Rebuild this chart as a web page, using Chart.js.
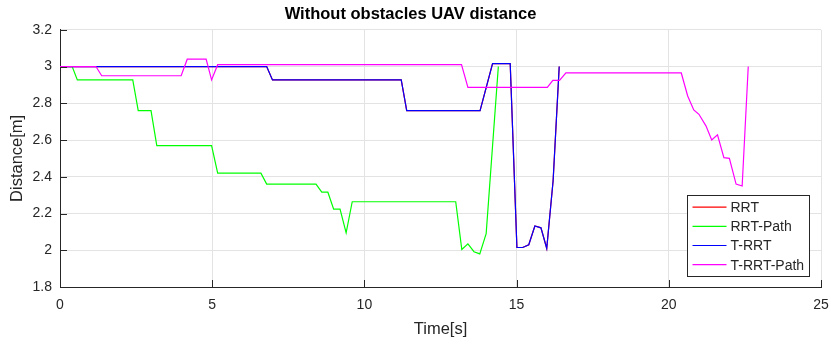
<!DOCTYPE html>
<html>
<head>
<meta charset="utf-8">
<script src="https://cdn.jsdelivr.net/npm/chart.js@4"></script>
<style>
    body { margin: 0; background: #fff; }
    #wrap { width: 831px; height: 345px; }
</style>
</head>
<body>
<div id="wrap"><canvas id="myChart" width="831" height="345"></canvas></div>
<script>
// Data
const rrtTime = [0, 6.79, 6.98, 11.21, 11.39, 13.8, 14.21, 14.79, 15.01, 15.2, 15.4, 15.6, 15.8, 15.99, 16.2, 16.4];
const rrtDist = [3.0, 3.0, 2.927, 2.927, 2.76, 2.76, 3.016, 3.016, 2.015, 2.015, 2.03, 2.132, 2.122, 2.01, 2.38, 3.0];

const rrtPathTime = [0, 0.4, 0.57, 2.39, 2.57, 2.99, 3.18, 4.98, 5.18, 6.6, 6.79, 8.41, 8.6, 8.8, 8.99, 9.2, 9.4, 9.6, 13.0, 13.2, 13.4, 13.6, 13.79, 14.0, 14.4];
const rrtPathDist = [3.0, 3.0, 2.927, 2.927, 2.76, 2.76, 2.57, 2.57, 2.42, 2.42, 2.36, 2.36, 2.316, 2.316, 2.224, 2.224, 2.095, 2.264, 2.264, 2.004, 2.035, 1.992, 1.98, 2.09, 3.0];

const trrtTime = [0, 6.79, 6.98, 11.21, 11.39, 13.8, 14.21, 14.79, 15.01, 15.2, 15.4, 15.6, 15.8, 15.99, 16.2, 16.4];
const trrtDist = [3.0, 3.0, 2.927, 2.927, 2.76, 2.76, 3.016, 3.016, 2.015, 2.015, 2.03, 2.132, 2.122, 2.01, 2.38, 3.0];

const trrtPathTime = [0, 1.18, 1.37, 3.98, 4.18, 4.8, 4.98, 5.18, 13.19, 13.4, 16.01, 16.19, 16.41, 16.62, 20.41, 20.62, 20.82, 20.99, 21.22, 21.41, 21.6, 21.81, 21.99, 22.21, 22.41, 22.61];
const trrtPathDist = [3.0, 3.0, 2.95, 2.95, 3.04, 3.04, 2.927, 3.01, 3.01, 2.887, 2.887, 2.925, 2.925, 2.965, 2.965, 2.84, 2.764, 2.74, 2.677, 2.6, 2.628, 2.504, 2.5, 2.36, 2.35, 3.0];

const seriesLabels = ["RRT", "RRT-Path", "T-RRT", "T-RRT-Path"];
const seriesColors = ["#ff0000", "#00ff00", "#0000ff", "#ff00ff"];

const xTicks = [0, 5, 10, 15, 20, 25];
const yMin = 1.8, yMax = 3.2, yStep = 0.2;

const fontFamily = "'Liberation Sans', Arial, Helvetica, sans-serif";
const axisColor = "#262626";

const toPoints = (xs, ys) => xs.map((x, i) => ({ x: x, y: ys[i] }));

// ticks drawn inward, like the original figure
const innerTicks = {
    id: "innerTicks",
    afterDraw(chart) {
        const { ctx, chartArea, scales } = chart;
        ctx.save();
        ctx.strokeStyle = axisColor;
        ctx.lineWidth = 1;
        ctx.beginPath();
        scales.x.ticks.forEach((t) => {
            const px = Math.round(scales.x.getPixelForValue(t.value)) + 0.5;
            ctx.moveTo(px, chartArea.bottom);
            ctx.lineTo(px, chartArea.bottom - 7);
        });
        scales.y.ticks.forEach((t) => {
            const py = Math.round(scales.y.getPixelForValue(t.value)) + 0.5;
            ctx.moveTo(chartArea.left, py);
            ctx.lineTo(chartArea.left + 7, py);
        });
        ctx.stroke();
        ctx.restore();
    },
};

// legend box inside the plot, bottom right
const insideLegend = {
    id: "insideLegend",
    afterDraw(chart) {
        const { ctx, chartArea } = chart;
        const sets = chart.data.datasets;
        ctx.save();
        ctx.font = "14px " + fontFamily;
        const textW = Math.max(...sets.map((d) => ctx.measureText(d.label).width));
        const rowH = 19.2;
        const w = Math.round(5 + 34 + 4 + textW + 5);
        const h = Math.round(sets.length * rowH + 4);
        const x = Math.round(chartArea.right - 12 - w) + 0.5;
        const y = Math.round(chartArea.bottom - 11 - h) + 0.5;
        ctx.fillStyle = "#fff";
        ctx.fillRect(x, y, w, h);
        ctx.strokeStyle = axisColor;
        ctx.lineWidth = 1;
        ctx.strokeRect(x, y, w, h);
        ctx.textBaseline = "middle";
        ctx.textAlign = "left";
        sets.forEach((d, i) => {
            const cy = y + 2 + rowH * (i + 0.5);
            ctx.strokeStyle = d.borderColor;
            ctx.lineWidth = 1.2;
            ctx.beginPath();
            ctx.moveTo(x + 5, cy);
            ctx.lineTo(x + 39, cy);
            ctx.stroke();
            ctx.fillStyle = axisColor;
            ctx.fillText(d.label, x + 43, cy + 1);
        });
        ctx.restore();
    },
};

const allSeries = [
    toPoints(rrtTime, rrtDist),
    toPoints(rrtPathTime, rrtPathDist),
    toPoints(trrtTime, trrtDist),
    toPoints(trrtPathTime, trrtPathDist),
];

const ctx = document.getElementById("myChart").getContext("2d");
const chart = new Chart(ctx, {
    type: "line",
    data: {
        datasets: allSeries.map((pts, i) => ({
            label: seriesLabels[i],
            data: pts,
            borderColor: seriesColors[i],
            backgroundColor: seriesColors[i],
            borderWidth: 1.2,
            pointRadius: 0,
            tension: 0,
            fill: false,
            order: 3 - i,
        })),
    },
    options: {
        responsive: false,
        animation: false,
        events: [],
        layout: { padding: { left: 0, right: 10, top: 0, bottom: 0 } },
        plugins: {
            legend: { display: false },
            tooltip: { enabled: false },
            title: {
                display: true,
                text: "Without obstacles UAV distance",
                color: "#000",
                font: { family: fontFamily, size: 16.5, weight: "bold" },
                padding: { top: 5, bottom: 5 },
            },
        },
        scales: {
            x: {
                type: "linear",
                min: 0,
                max: 25,
                afterBuildTicks: (scale) => {
                    scale.ticks = xTicks.map((v) => ({ value: v }));
                },
                afterFit: (scale) => {
                    scale.height = 58;
                    scale.paddingLeft = 0;
                    scale.paddingRight = 0;
                },
                ticks: {
                    color: axisColor,
                    font: { family: fontFamily, size: 14 },
                    padding: 10,
                    maxRotation: 0,
                    callback: (v) => String(v),
                },
                grid: { color: "#e3e3e3", drawTicks: false },
                border: { color: axisColor, width: 1 },
                title: {
                    display: true,
                    text: "Time[s]",
                    color: axisColor,
                    font: { family: fontFamily, size: 16.5 },
                    padding: { top: 0, bottom: 6 },
                },
            },
            y: {
                min: yMin,
                max: yMax,
                afterFit: (scale) => {
                    scale.width = 60;
                },
                ticks: {
                    stepSize: yStep,
                    color: axisColor,
                    font: { family: fontFamily, size: 14 },
                    padding: 8,
                    callback: (v) => String(parseFloat(v.toFixed(1))),
                },
                grid: { color: "#e3e3e3", drawTicks: false },
                border: { color: axisColor, width: 1 },
                title: {
                    display: true,
                    text: "Distance[m]",
                    color: axisColor,
                    font: { family: fontFamily, size: 16.5 },
                    padding: { top: 8, bottom: 0 },
                },
            },
        },
    },
    plugins: [innerTicks, insideLegend],
});
</script>
</body>
</html>
